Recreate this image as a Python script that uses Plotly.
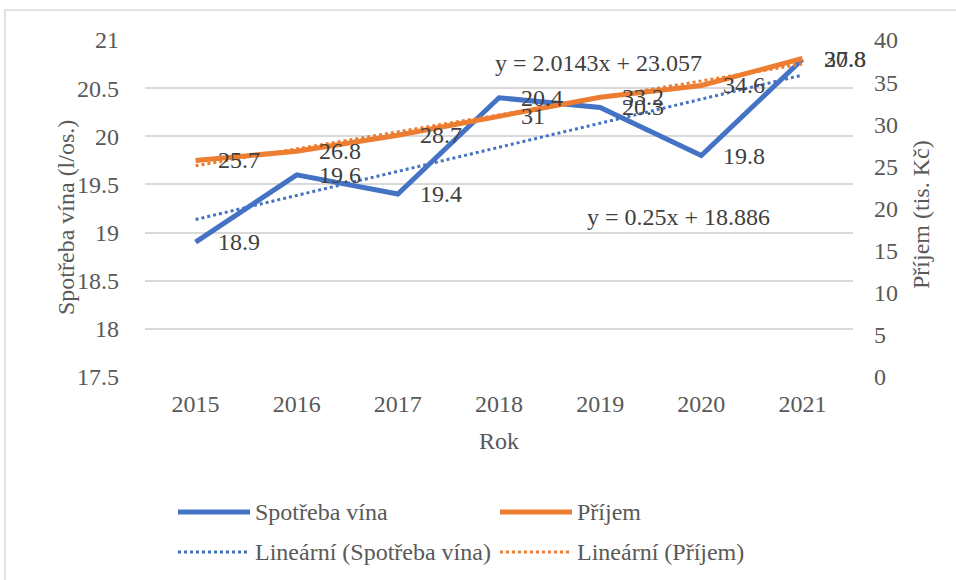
import numpy as np
import plotly.graph_objects as go

# data
roky = [2015, 2016, 2017, 2018, 2019, 2020, 2021]
spotreba = [18.9, 19.6, 19.4, 20.4, 20.3, 19.8, 20.8]
prijem = [25.7, 26.8, 28.7, 31.0, 33.2, 34.6, 37.8]

MODRA = '#4472C4'
ORANZ = '#ED7D31'
TEXT = '#404040'
SEDA = '#595959'
FONT = 'Liberation Serif'
FS = 24

# lineární trendy (x = 1..n jako v Excelu)
idx = np.arange(1, len(roky) + 1)
k_s, q_s = np.polyfit(idx, spotreba, 1)
k_p, q_p = np.polyfit(idx, prijem, 1)
trend_s = k_s * idx + q_s
trend_p = k_p * idx + q_p

fig = go.Figure()
fig.add_trace(go.Scatter(x=roky, y=spotreba, mode='lines', name='Spotřeba vína',
                         line=dict(color=MODRA, width=5)))
fig.add_trace(go.Scatter(x=roky, y=prijem, mode='lines', name='Příjem', yaxis='y2',
                         line=dict(color=ORANZ, width=5)))
fig.add_trace(go.Scatter(x=roky, y=trend_s, mode='lines', name='Lineární (Spotřeba vína)',
                         line=dict(color=MODRA, width=3, dash='dot')))
fig.add_trace(go.Scatter(x=roky, y=trend_p, mode='lines', name='Lineární (Příjem)', yaxis='y2',
                         line=dict(color=ORANZ, width=3, dash='dot')))

# popisky hodnot
for r, v in zip(roky, spotreba):
    fig.add_annotation(x=r, y=v, yref='y', text=f'{v:g}', showarrow=False,
                       xanchor='left', yanchor='middle', xshift=20,
                       font=dict(family=FONT, size=FS, color=TEXT))
for r, v in zip(roky, prijem):
    fig.add_annotation(x=r, y=v, yref='y2', text=f'{v:g}', showarrow=False,
                       xanchor='left', yanchor='middle', xshift=20,
                       font=dict(family=FONT, size=FS, color=TEXT))

# rovnice trendů
fig.add_annotation(x=2018.98, y=37.27, yref='y2', text=f'y = {k_p:.5g}x + {q_p:.5g}',
                   showarrow=False, font=dict(family=FONT, size=FS, color=TEXT))
fig.add_annotation(x=2019.77, y=19.16, yref='y', text=f'y = {k_s:.5g}x + {q_s:.5g}',
                   showarrow=False, font=dict(family=FONT, size=FS, color=TEXT))

W, H = 956, 580
L, R, T, B = 145, 103, 40, 203
pw, ph = W - L - R, H - T - B


def px(x):
    return (x - L) / pw


def py(y):
    return (H - B - y) / ph


# rámeček grafu
fig.add_shape(type='rect', xref='paper', yref='paper', x0=px(5), x1=px(960), y0=py(585), y1=py(10),
              line=dict(color='#D9D9D9', width=1.5), layer='below')

# popisky os y
fig.add_annotation(xref='paper', yref='paper', x=px(66), y=py(218), text='Spotřeba vína (l/os.)',
                   textangle=-90, showarrow=False, xanchor='center', yanchor='middle',
                   font=dict(family=FONT, size=FS, color=SEDA))
fig.add_annotation(xref='paper', yref='paper', x=px(921), y=py(214), text='Příjem (tis. Kč)',
                   textangle=-90, showarrow=False, xanchor='center', yanchor='middle',
                   font=dict(family=FONT, size=FS, color=SEDA))

# legenda (ručně, aby čáry měly délku jako v Excelu)
leg = [(fig.data[0], 178, 512), (fig.data[1], 500, 512),
       (fig.data[2], 178, 552), (fig.data[3], 500, 552)]
for tr, lx, ly in leg:
    fig.add_shape(type='line', xref='paper', yref='paper', x0=px(lx), x1=px(lx + 72),
                  y0=py(ly), y1=py(ly), line=dict(color=tr.line.color, width=tr.line.width,
                                                  dash=tr.line.dash))
    fig.add_annotation(xref='paper', yref='paper', x=px(lx + 75), y=py(ly), text=tr.name,
                       showarrow=False, xanchor='left', yanchor='middle',
                       font=dict(family=FONT, size=FS, color=SEDA))

fig.update_layout(
    width=W, height=H,
    margin=dict(l=L, r=R, t=T, b=B),
    paper_bgcolor='white', plot_bgcolor='white',
    font=dict(family=FONT, size=FS, color=SEDA),
    showlegend=False,
    xaxis=dict(range=[2014.5, 2021.5], tickvals=roky, showgrid=False, zeroline=False,
               showline=False, ticklabelstandoff=10, automargin=False,
               title=dict(text='Rok', standoff=16, font=dict(size=FS))),
    yaxis=dict(range=[17.5, 21], dtick=0.5, showgrid=True, gridcolor='#D9D9D9', gridwidth=1.5,
               zeroline=False, showline=False, ticklabelstandoff=25, automargin=False),
    yaxis2=dict(range=[0, 40], dtick=5, overlaying='y', side='right', showgrid=False,
                zeroline=False, showline=False, ticklabelstandoff=20, automargin=False),
)

fig.write_html('out.html', config={'displayModeBar': False},
               post_script="document.body.style.margin='0';")
